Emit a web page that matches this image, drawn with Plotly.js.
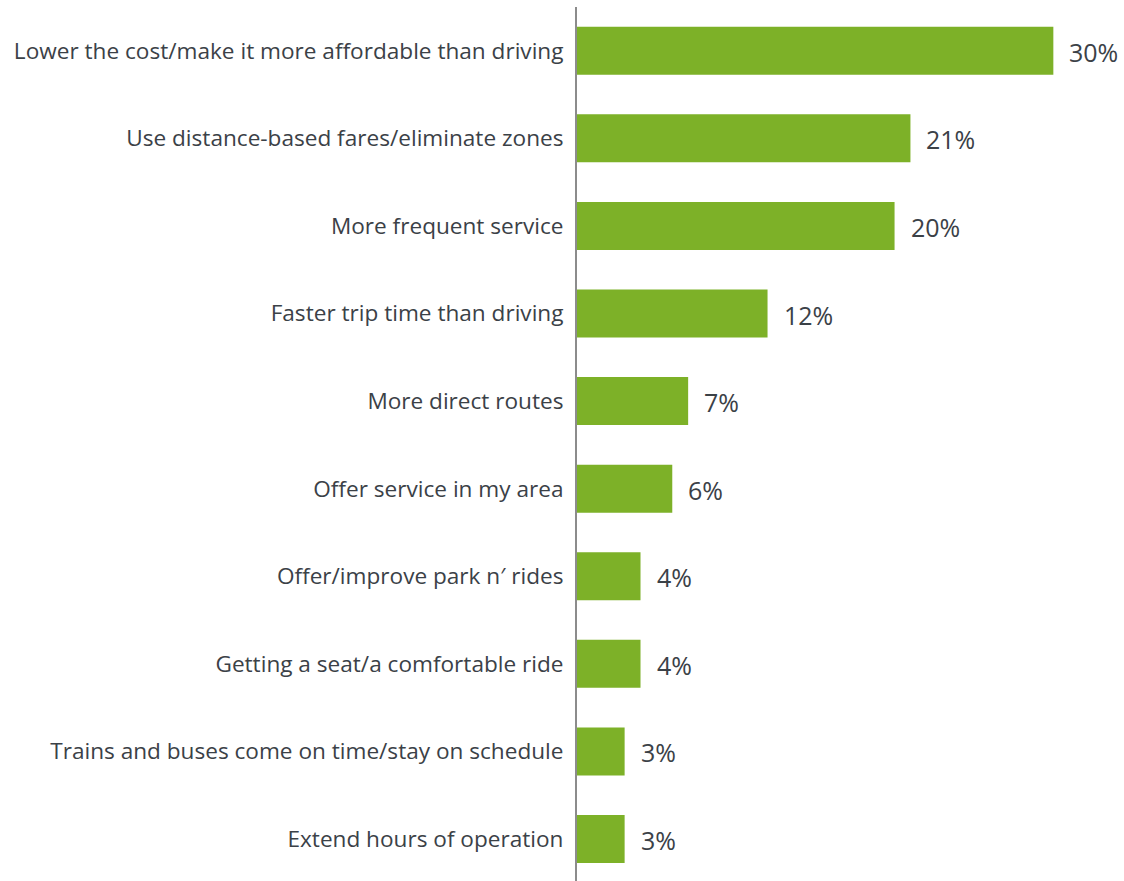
<!DOCTYPE html>
<html>
<head>
<meta charset="utf-8">
<script src="https://cdn.plot.ly/plotly-3.0.1.min.js"></script>
<style>html,body{margin:0;padding:0;background:#fff;}#chart{width:1124px;height:881px;}</style>
</head>
<body>
<div id="chart"></div>
<script>
const categories = [
  "Lower the cost/make it more affordable than driving",
  "Use distance-based fares/eliminate zones",
  "More frequent service",
  "Faster trip time than driving",
  "More direct routes",
  "Offer service in my area",
  "Offer/improve park n\u2032 rides",
  "Getting a seat/a comfortable ride",
  "Trains and buses come on time/stay on schedule",
  "Extend hours of operation"
];
const values = [30, 21, 20, 12, 7, 6, 4, 4, 3, 3];
const valueLabels = values.map(v => v + "%");

const textColor = "#3b4147";
const fontFam = "'Open Sans', 'Noto Sans', sans-serif";

const trace = {
  type: "bar",
  orientation: "h",
  x: values,
  y: categories,
  marker: {color: "#7db128"},
  hoverinfo: "skip"
};

const annotations = values.map((v, i) => ({
  x: v, y: categories[i], xref: "x", yref: "y",
  text: valueLabels[i], showarrow: false,
  xanchor: "left", yanchor: "middle", xshift: 14, yshift: -1,
  font: {family: fontFam, size: 25, color: textColor}
}));

const layout = {
  width: 1124, height: 881,
  margin: {l: 577, r: 0, t: 7, b: 0, pad: 0},
  paper_bgcolor: "#fff", plot_bgcolor: "#fff",
  bargap: 0.452,
  showlegend: false,
  xaxis: {range: [0, 34.45], showgrid: false, zeroline: false, showticklabels: false, showline: false, fixedrange: true},
  yaxis: {
    type: "category", categoryorder: "array", categoryarray: categories,
    range: [9.48, -0.5],
    showgrid: false, zeroline: false,
    showline: true, linecolor: "#8c8c8c", linewidth: 2,
    ticks: "", ticklabelstandoff: 7,
    tickfont: {family: fontFam, size: 22.6, color: textColor},
    fixedrange: true
  },
  annotations: annotations
};

Plotly.newPlot("chart", [trace], layout, {displayModeBar: false, staticPlot: true});
</script>
</body>
</html>
